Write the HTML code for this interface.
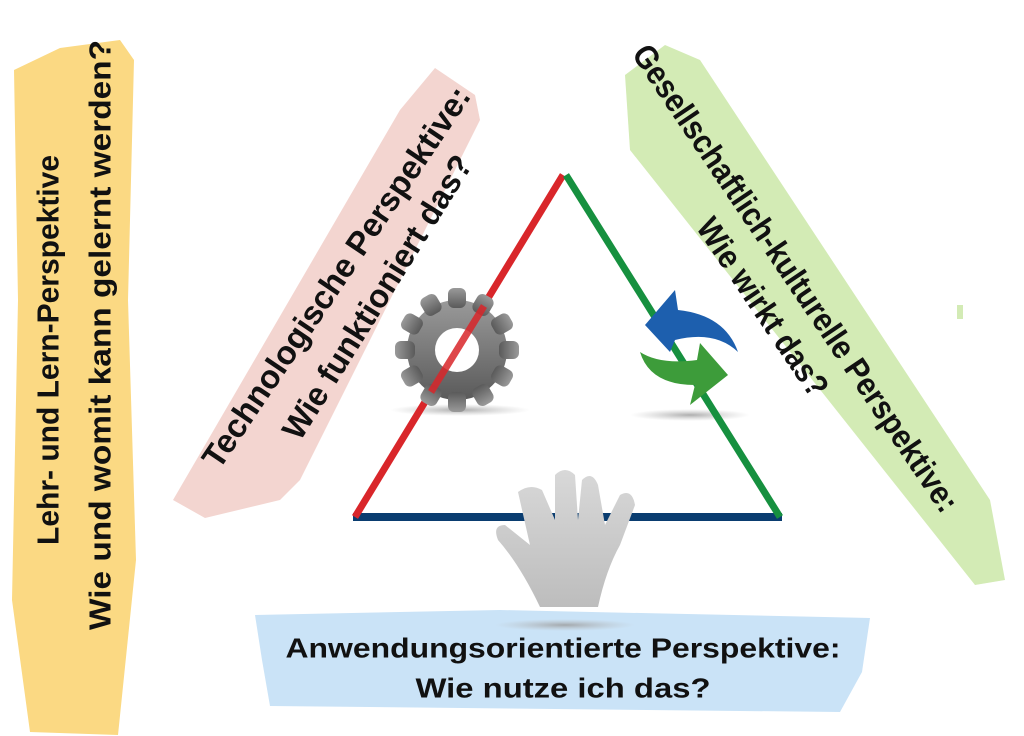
<!DOCTYPE html>
<html><head><meta charset="utf-8"><style>
html,body{margin:0;padding:0;background:#fff;}
svg{display:block;}
text{font-family:"Liberation Sans",sans-serif;font-weight:bold;fill:#111;dominant-baseline:central;text-anchor:middle;}
</style></head><body>
<svg width="1024" height="736" viewBox="0 0 1024 736" xmlns="http://www.w3.org/2000/svg">
<defs>
<linearGradient id="gg" x1="0" y1="0" x2="0" y2="1"><stop offset="0" stop-color="#9a9a9a"/><stop offset="1" stop-color="#5a5a5a"/></linearGradient>
<linearGradient id="hg" x1="0" y1="0" x2="0" y2="1"><stop offset="0" stop-color="#d8d8d8"/><stop offset="1" stop-color="#bdbdbd"/></linearGradient>
<radialGradient id="sh"><stop offset="0" stop-color="#999" stop-opacity=".8"/><stop offset="1" stop-color="#bbb" stop-opacity="0"/></radialGradient>
</defs>
<!-- bands -->
<polygon points="14,70 60,48 120,40 134,60 128,300 136,560 118,735 30,732 12,600 18,300" fill="#fbd983"/>
<polygon points="173,500 400,110 435,68 475,95 480,120 300,480 280,500 205,518" fill="#f3d5d0"/>
<polygon points="625,75 665,45 700,60 990,500 1005,580 975,585 630,150" fill="#d3ebb5"/>
<rect x="957" y="305" width="6" height="14" fill="#d3ebb5"/>
<polygon points="255,615 500,610 870,618 862,672 840,712 270,706 262,660" fill="#cae3f7"/>
<!-- shadows -->
<ellipse cx="460" cy="410" rx="70" ry="6" fill="url(#sh)"/>
<ellipse cx="690" cy="415" rx="60" ry="6" fill="url(#sh)"/>
<ellipse cx="565" cy="625" rx="70" ry="6" fill="url(#sh)"/>
<!-- triangle -->
<line x1="353" y1="517" x2="782" y2="517" stroke="#0a3d70" stroke-width="8"/>
<line x1="355" y1="517" x2="563" y2="175" stroke="#d9262a" stroke-width="7"/>
<line x1="566" y1="175" x2="780" y2="517" stroke="#16903f" stroke-width="7"/>
<!-- gear -->
<g transform="translate(457,350)">
<g fill="url(#gg)">
<circle r="50"/>
<g id="t"><rect x="-9" y="-62" width="18" height="20" rx="6"/></g>
<use href="#t" transform="rotate(30)"/><use href="#t" transform="rotate(60)"/><use href="#t" transform="rotate(90)"/>
<use href="#t" transform="rotate(120)"/><use href="#t" transform="rotate(150)"/><use href="#t" transform="rotate(180)"/>
<use href="#t" transform="rotate(210)"/><use href="#t" transform="rotate(240)"/><use href="#t" transform="rotate(270)"/>
<use href="#t" transform="rotate(300)"/><use href="#t" transform="rotate(330)"/>
</g>
<circle r="22" fill="#fff"/>
</g>
<line x1="431" y1="392" x2="484" y2="306" stroke="#d9262a" stroke-width="7" opacity=".85"/>
<!-- arrows -->
<path d="M645,325 L675,290 L678,310 Q725,315 738,352 Q715,330 675,340 L670,352 Z" fill="#1d5fae"/>
<path d="M640,352 Q650,385 695,385 L690,405 L728,375 L700,343 L697,360 Q660,365 640,352 Z" fill="#3d9c3a"/>
<!-- hand -->
<path d="M540,607 L598,607 Q606,570 620,545 L635,505 Q632,488 620,495 L605,525 L598,485 Q592,470 582,480 L578,520 L575,475 Q565,465 555,475 L555,520 L542,490 Q530,483 518,492 L530,545 L505,525 Q492,525 498,540 Q520,565 540,607 Z" fill="url(#hg)"/>
<!-- texts -->
<g transform="translate(48,350) rotate(-90)"><text font-size="31" textLength="390" lengthAdjust="spacingAndGlyphs">Lehr- und Lern-Perspektive</text></g>
<g transform="translate(100,335) rotate(-90)"><text font-size="31" textLength="590" lengthAdjust="spacingAndGlyphs">Wie und womit kann gelernt werden?</text></g>
<g transform="translate(336,277) rotate(-56)"><text font-size="33" textLength="452" lengthAdjust="spacingAndGlyphs">Technologische Perspektive:</text></g>
<g transform="translate(377,297) rotate(-58)"><text font-size="33" textLength="328" lengthAdjust="spacingAndGlyphs">Wie funktioniert das?</text></g>
<g transform="translate(796,278) rotate(56)"><text font-size="33" textLength="556" lengthAdjust="spacingAndGlyphs">Gesellschaftlich-kulturelle Perspektive:</text></g>
<g transform="translate(763,307) rotate(56)"><text font-size="33" textLength="208" lengthAdjust="spacingAndGlyphs">Wie wirkt das?</text></g>
<text x="563" y="648" font-size="28" textLength="555" lengthAdjust="spacingAndGlyphs">Anwendungsorientierte Perspektive:</text>
<text x="563" y="688" font-size="28" textLength="295" lengthAdjust="spacingAndGlyphs">Wie nutze ich das?</text>
</svg>
</body></html>
